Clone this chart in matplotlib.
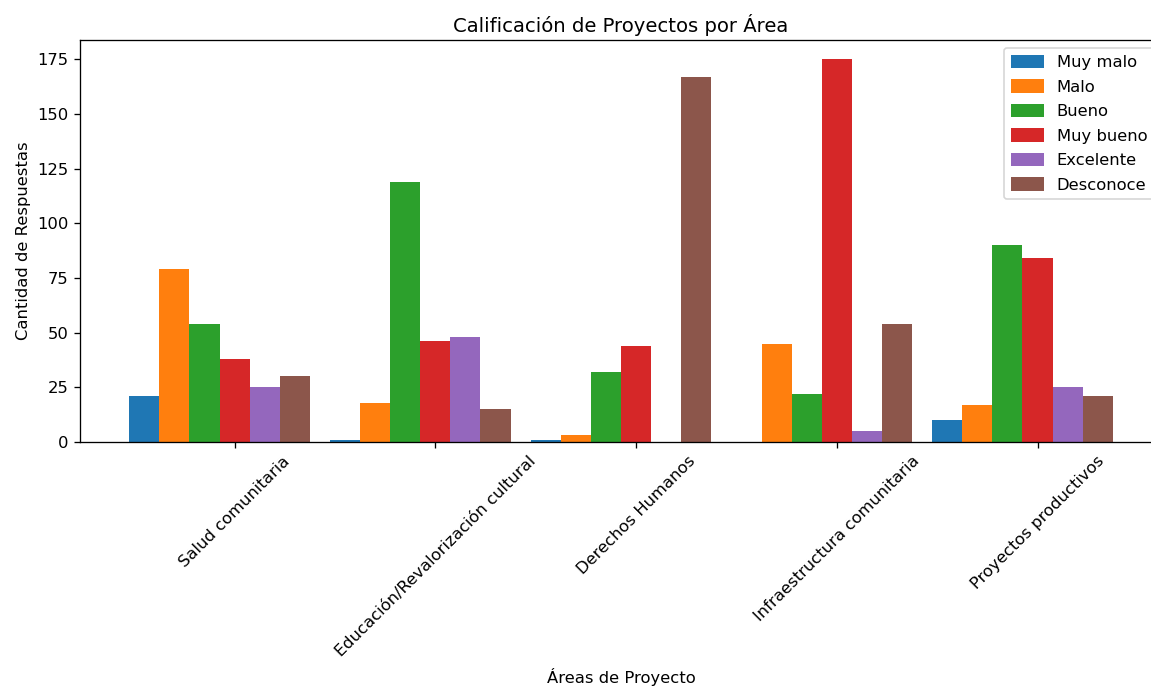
import numpy as np
import matplotlib
matplotlib.use("Agg")
import matplotlib.pyplot as plt

areas = ["Salud comunitaria", "Educación/Revalorización cultural", "Derechos Humanos",
         "Infraestructura comunitaria", "Proyectos productivos"]
ratings = ["Muy malo", "Malo", "Bueno", "Muy bueno", "Excelente", "Desconoce"]

muy_malo = [21, 1, 1, 0, 10]
malo = [79, 18, 3, 45, 17]
bueno = [54, 119, 32, 22, 90]
muy_bueno = [38, 46, 44, 175, 84]
excelente = [25, 48, 0, 5, 25]
desconoce = [30, 15, 167, 54, 21]

series = [muy_malo, malo, bueno, muy_bueno, excelente, desconoce]

DPI = 118


def plot_chart():
    fig = plt.figure(figsize=(1151 / DPI, 687 / DPI), dpi=DPI)
    # axes runs a bit past the right edge, as in the cropped original
    ax = fig.add_axes([80 / 1151, 1 - 442 / 687, 1082 / 1151, 402 / 687])
    x = np.arange(len(areas))
    width = 0.15
    for i, (label, vals) in enumerate(zip(ratings, series)):
        ax.bar(x + (i - 3) * width, vals, width=width, label=label)
    ax.set_xticks(x)
    ax.set_xticklabels(areas, rotation=45)
    ax.set_xlabel("Áreas de Proyecto", labelpad=5)
    ax.set_ylabel("Cantidad de Respuestas")
    ax.set_title("Calificación de Proyectos por Área", pad=5)
    ax.legend(loc="upper right", labelspacing=0.55, handleheight=0.9)
    fig.savefig("out.png", dpi=DPI)


if __name__ == "__main__":
    plot_chart()
